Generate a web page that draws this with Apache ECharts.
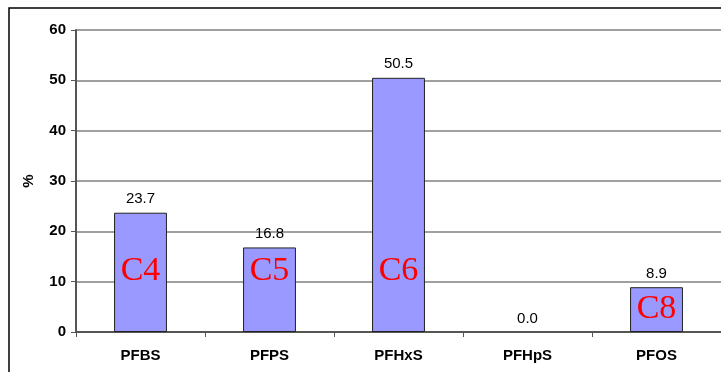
<!DOCTYPE html>
<html>
<head>
<meta charset="utf-8">
<script src="https://cdn.jsdelivr.net/npm/echarts@6/dist/echarts.min.js"></script>
<style>
  html, body { margin: 0; padding: 0; background: #fff; }
  #chart1 { width: 721px; height: 372px; }
</style>
</head>
<body>
<div id="chart1"></div>
<script>
    // 数据
    var categories = ['PFBS', 'PFPS', 'PFHxS', 'PFHpS', 'PFOS'];
    var values = [23.7, 16.8, 50.5, 0.0, 8.9];
    var tags = ['C4', 'C5', 'C6', '', 'C8'];
    var yTicks = [0, 10, 20, 30, 40, 50, 60];

    var chart1 = echarts.init(document.getElementById('chart1'));

    var barData = values.map(function (v) {
        return {
            value: v,
            itemStyle: { borderWidth: v === 0 ? 0 : 1 }
        };
    });

    var tagData = values.map(function (v) {
        return {
            value: v,
            label: { distance: v < 10 ? 6 : 44 }
        };
    });

    var option = {
        animation: false,
        graphic: [
            {
                type: 'rect',
                shape: { x: 9, y: 8, width: 730, height: 380 },
                style: { fill: 'none', stroke: '#000', lineWidth: 1.5 },
                silent: true
            }
        ],
        grid: {
            left: 76,
            right: 0,
            top: 30,
            bottom: 40
        },
        xAxis: [
            {
                type: 'category',
                data: categories,
                boundaryGap: true,
                axisLine: { lineStyle: { color: '#555', width: 2 } },
                axisTick: { show: true, length: 5, lineStyle: { color: '#555' } },
                axisLabel: {
                    color: '#000',
                    fontFamily: 'Liberation Sans, Arial',
                    fontWeight: 'bold',
                    fontSize: 15,
                    margin: 16
                }
            }
        ],
        yAxis: [
            {
                type: 'value',
                min: yTicks[0],
                max: yTicks[yTicks.length - 1],
                interval: 10,
                name: '%',
                nameLocation: 'middle',
                nameGap: 40,
                nameRotate: 90,
                nameTextStyle: {
                    color: '#000',
                    fontFamily: 'Liberation Sans, Arial',
                    fontWeight: 'bold',
                    fontSize: 15
                },
                axisLine: { show: true, lineStyle: { color: '#555', width: 2 } },
                axisTick: { show: true, length: 5, lineStyle: { color: '#555' } },
                axisLabel: {
                    color: '#000',
                    fontFamily: 'Liberation Sans, Arial',
                    fontWeight: 'bold',
                    fontSize: 15,
                    margin: 10
                },
                splitLine: { lineStyle: { color: '#808080', width: 1.5 } }
            }
        ],
        series: [
            {
                name: 'value',
                type: 'bar',
                data: barData,
                barWidth: '41%',
                itemStyle: {
                    color: '#9999FF',
                    borderColor: '#222',
                    borderWidth: 1
                },
                label: {
                    show: true,
                    position: 'top',
                    distance: 6,
                    color: '#000',
                    fontFamily: 'Liberation Sans, Arial',
                    fontSize: 15,
                    formatter: function (p) { return p.value.toFixed(1); }
                }
            },
            {
                name: 'tag',
                type: 'bar',
                data: tagData,
                barWidth: '41%',
                barGap: '-100%',
                silent: true,
                itemStyle: { color: 'rgba(0,0,0,0)' },
                label: {
                    show: true,
                    position: 'insideBottom',
                    color: '#ff0000',
                    fontFamily: 'Liberation Serif, Times New Roman',
                    fontSize: 34,
                    formatter: function (p) { return tags[p.dataIndex]; }
                }
            }
        ]
    };

    chart1.setOption(option);
    window.onresize = chart1.resize;
</script>
</body>
</html>
